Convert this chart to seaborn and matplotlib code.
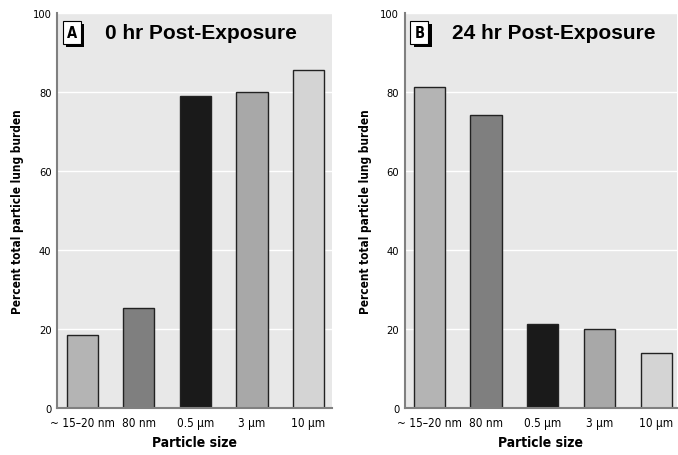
import numpy as np
import pandas as pd
import seaborn as sns
import matplotlib.pyplot as plt
import matplotlib.patheffects as pe
from matplotlib import font_manager

# data
sizes = ['~ 15\u201320 nm', '80 nm', '0.5 \u00b5m', '3 \u00b5m', '10 \u00b5m']
burden_0hr = [18.6, 25.4, 79.1, 80.1, 85.6]
burden_24hr = [81.4, 74.3, 21.2, 19.9, 13.9]
bar_colors = ['#b4b4b4', '#7f7f7f', '#1a1a1a', '#a8a8a8', '#d4d4d4']

sns.set_style('white')
names = sorted({f.name for f in font_manager.fontManager.ttflist})
narrow = [n for n in ['Liberation Sans Narrow', 'DejaVu Sans'] if n in names]
plt.rcParams['font.family'] = narrow
plt.rcParams['font.stretch'] = 'condensed'
plt.rcParams['text.color'] = 'black'
plt.rcParams['axes.labelcolor'] = 'black'
plt.rcParams['xtick.color'] = 'black'
plt.rcParams['ytick.color'] = 'black'

fig = plt.figure(figsize=(6.78, 4.56), dpi=100)
ax_a = fig.add_axes([0.084, 0.103, 0.406, 0.866])
ax_b = fig.add_axes([0.597, 0.103, 0.401, 0.866])

panels = [(ax_a, burden_0hr, 'A', '0 hr Post-Exposure', (-0.45, 4.42)),
          (ax_b, burden_24hr, 'B', '24 hr Post-Exposure', (-0.43, 4.36))]

for ax, vals, letter, title, xl in panels:
    df = pd.DataFrame({'size': sizes, 'burden': vals})
    sns.barplot(data=df, x='size', y='burden', hue='size', palette=bar_colors,
                legend=False, width=0.55, edgecolor='#222222', linewidth=1.0, ax=ax)
    ax.set_facecolor('#e8e8e8')
    ax.set_ylim(0, 100)
    ax.set_xlim(*xl)
    ax.set_yticks([0, 20, 40, 60, 80, 100])
    ax.yaxis.grid(True, color='white', linewidth=1.0)
    ax.set_axisbelow(True)
    for s in ['top', 'right']:
        ax.spines[s].set_visible(False)
    for s in ['left', 'bottom']:
        ax.spines[s].set_color('#808080')
        ax.spines[s].set_linewidth(1.5)
    ax.tick_params(axis='y', length=2, width=0.8, color='#808080', labelsize=8, pad=2)
    ax.tick_params(axis='x', length=0, labelsize=8.5, pad=5.5)
    ax.set_xlabel('Particle size', fontsize=10, fontweight='bold', labelpad=4.5)
    ax.set_ylabel('Percent total particle lung burden', fontsize=8.5, fontweight='bold', labelpad=6)
    t = ax.text(0.035, 0.952, letter, transform=ax.transAxes, fontsize=10.5,
                fontweight='bold', ha='left', va='center',
                bbox=dict(boxstyle='square,pad=0.28', facecolor='white',
                          edgecolor='black', linewidth=0.8))
    t.get_bbox_patch().set_path_effects([
        pe.SimplePatchShadow(offset=(2.5, -2.5), shadow_rgbFace='black', alpha=1.0),
        pe.Normal()])
    ax.text(0.175, 0.952, title, transform=ax.transAxes, fontsize=15,
            fontweight='bold', fontstretch='normal',
            family=['Liberation Sans', 'DejaVu Sans'],
            ha='left', va='center')

fig.savefig('out.png', dpi=100)
